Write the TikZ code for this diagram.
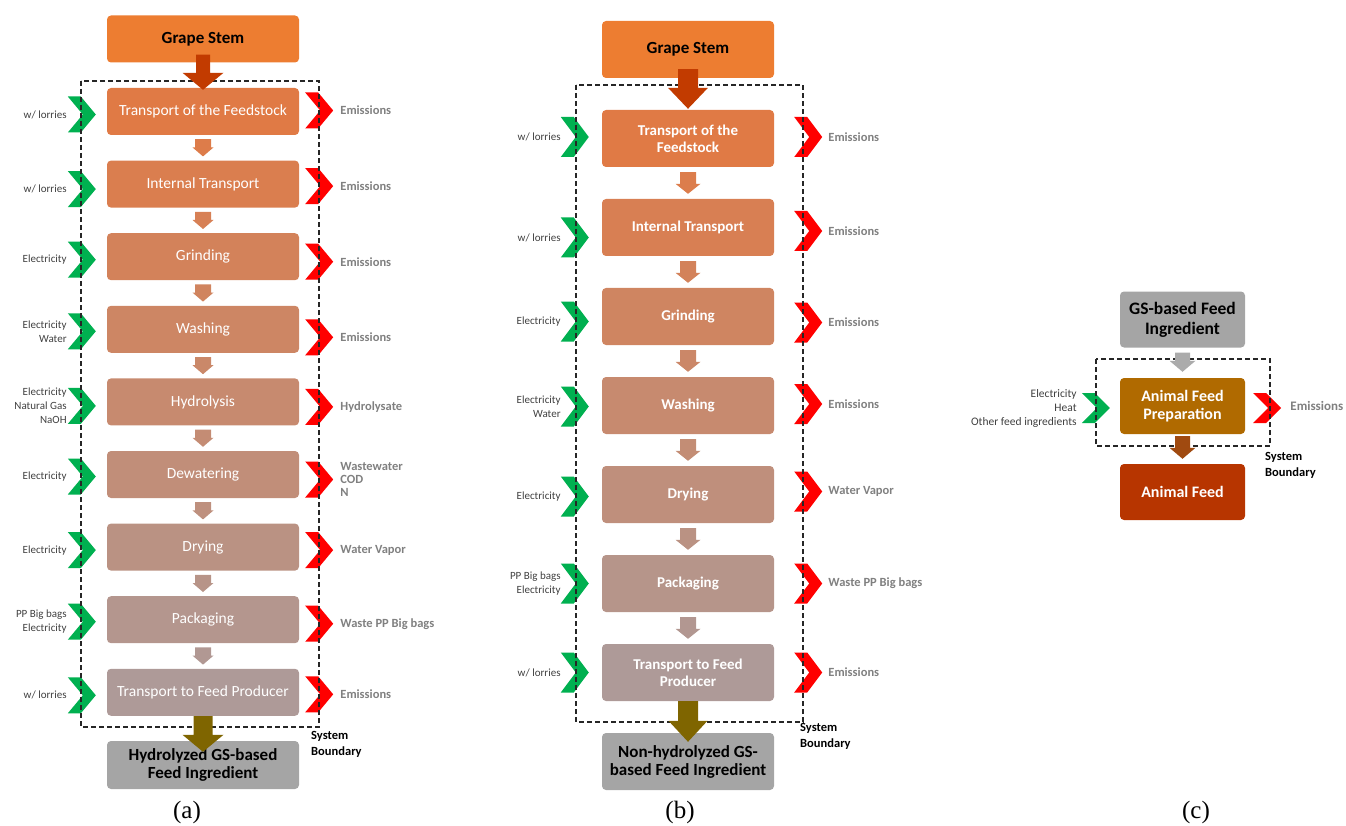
\documentclass[tikz,border=0pt]{standalone}
\usepackage{fontspec}
\setmainfont{Carlito}
\newfontfamily\capfont{Liberation Serif}
\usetikzlibrary{positioning,calc}

\definecolor{stemorange}{HTML}{ED7D31}
\definecolor{flowtop}{HTML}{E07A45}
\definecolor{flowend}{HTML}{AE9A98}
\definecolor{outgray}{HTML}{A5A5A5}
\definecolor{ingreen}{HTML}{00B050}
\definecolor{outred}{HTML}{FF0000}
\definecolor{stemarrow}{HTML}{C23B00}
\definecolor{olive}{HTML}{7F6500}
\definecolor{prepbrown}{HTML}{B06A00}
\definecolor{prepdark}{HTML}{A04A10}
\definecolor{feedred}{HTML}{B73500}
\definecolor{arrowgray}{HTML}{ABABAB}
\definecolor{labelgray}{HTML}{404040}
\definecolor{emgray}{HTML}{808080}

\tikzset{
  procbox/.style={rounded corners=4pt, inner sep=0pt, align=center, text=white},
  boxa/.style={procbox, minimum width=192pt, minimum height=47pt, font=\fontsize{15.5}{17}\selectfont},
  boxb/.style={procbox, minimum width=172pt, minimum height=57pt, font=\bfseries\fontsize{15}{17}\selectfont},
  boxc/.style={procbox, minimum width=125pt, minimum height=56pt, font=\bfseries\fontsize{16}{17.5}\selectfont},
  endbox/.style={text=black, font=\bfseries\fontsize{17}{18}\selectfont},
  inlab/.style={anchor=east, align=right, inner sep=0pt, text=labelgray, font=\fontsize{11}{14}\selectfont},
  outlab/.style={anchor=west, align=left, inner sep=0pt, text=emgray, font=\bfseries\fontsize{12.5}{13}\selectfont},
  sysbound/.style={draw=black!85, line width=1.1pt, dash pattern=on 5pt off 3pt},
  syslab/.style={anchor=west, align=left, inner sep=0pt, font=\bfseries\fontsize{12.5}{16}\selectfont},
  panellab/.style={inner sep=0pt, font=\capfont\fontsize{25}{28}\selectfont},
  pics/chevron/.style={code={\fill (-28,-#1) -- (-15,-#1) -- (0,0) -- (-15,#1) -- (-28,#1) -- (-13,0) -- cycle;}}
}

% block arrow pointing down: from, to, colour, shaft half, head half, head length
\newcommand{\flowdown}[6]{%
  \fill[#3] let \p1=(#1), \p2=(#2) in
    (\x1-#4pt,\y1) -- (\x1+#4pt,\y1) -- (\x1+#4pt,\y2+#6pt) -- (\x1+#5pt,\y2+#6pt)
    -- (\x1,\y2) -- (\x1-#5pt,\y2+#6pt) -- (\x1-#4pt,\y2+#6pt) -- cycle;}

\begin{document}
\begin{tikzpicture}[x=1pt, y=-1pt, node distance=72.6pt, on grid]
    \useasboundingbox (0,0) rectangle (1346,826);

    % (a) hydrolyzed route
    \node[boxa, fill=stemorange, endbox] (a0) at (203,39) {Grape Stem};
    \node[boxa, fill=flowtop] (a1) at (203,111.5) {Transport of the Feedstock};
    \node[boxa, fill=flowtop!87.5!flowend, below=of a1] (a2) {Internal Transport};
    \node[boxa, fill=flowtop!75!flowend, below=of a2] (a3) {Grinding};
    \node[boxa, fill=flowtop!62.5!flowend, below=of a3] (a4) {Washing};
    \node[boxa, fill=flowtop!50!flowend, below=of a4] (a5) {Hydrolysis};
    \node[boxa, fill=flowtop!37.5!flowend, below=of a5] (a6) {Dewatering};
    \node[boxa, fill=flowtop!25!flowend, below=of a6] (a7) {Drying};
    \node[boxa, fill=flowtop!12.5!flowend, below=of a7] (a8) {Packaging};
    \node[boxa, fill=flowend, below=of a8] (a9) {Transport to Feed Producer};
    \node[boxa, fill=outgray, endbox, minimum height=48pt] (a10) at (203,765) {Hydrolyzed GS-based\\Feed Ingredient};

    \foreach \n/\gy/\ry/\i/\o in {
      a1/3/-1/{w/ lorries}/Emissions,
      a2/5/2/{w/ lorries}/Emissions,
      a3/3/5/Electricity/Emissions,
      a4/2/8/{Electricity\\Water}/Emissions,
      a5/4/5/{Electricity\\Natural Gas\\NaOH}/Hydrolysate,
      a6/2/5/Electricity/{Wastewater\\COD\\N},
      a7/3/3/Electricity/{Water Vapor},
      a8/2/4/{PP Big bags\\Electricity}/{Waste PP Big bags},
      a9/3/2/{w/ lorries}/Emissions}{
      \pic[fill=ingreen] at ($(\n.west)+(-11,\gy)$) {chevron=18};
      \node[inlab] (\n-in) at ($(\n.west)+(-40,\gy)$) {\i};
      \pic[fill=outred] at ($(\n.east)+(34,\ry)$) {chevron=18};
      \node[outlab] (\n-out) at ($(\n.east)+(41,\ry)$) {\o};
    }

    % (b) non-hydrolyzed route
    \node[boxb, fill=stemorange, endbox] (b0) at (688,49.5) {Grape Stem};
    \node[boxb, fill=flowtop] (b1) at (688,138.5) {Transport of the\\Feedstock};
    \node[boxb, fill=flowtop!83.3!flowend, below=89pt of b1] (b2) {Internal Transport};
    \node[boxb, fill=flowtop!66.7!flowend, below=89pt of b2] (b3) {Grinding};
    \node[boxb, fill=flowtop!50!flowend, below=89pt of b3] (b4) {Washing};
    \node[boxb, fill=flowtop!33.3!flowend, below=89pt of b4] (b5) {Drying};
    \node[boxb, fill=flowtop!16.7!flowend, below=89pt of b5] (b6) {Packaging};
    \node[boxb, fill=flowend, below=89pt of b6] (b7) {Transport to Feed\\Producer};
    \node[boxb, fill=outgray, endbox] (b8) at (688,761.5) {Non-hydrolyzed GS-\\based Feed Ingredient};

    \foreach \n/\gy/\ry/\i/\o in {
      b1/-1.5/-1.5/{w/ lorries}/Emissions,
      b2/10/3.5/{w/ lorries}/Emissions,
      b3/5/6/Electricity/Emissions,
      b4/1/-1.5/{Electricity\\Water}/Emissions,
      b5/2/-3/Electricity/{Water Vapor},
      b6/0/0/{PP Big bags\\Electricity}/{Waste PP Big bags},
      b7/0/0/{w/ lorries}/Emissions}{
      \pic[fill=ingreen] at ($(\n.west)+(-13,\gy)$) {chevron=20};
      \node[inlab] (\n-in) at ($(\n.west)+(-41,\gy)$) {\i};
      \pic[fill=outred] at ($(\n.east)+(48,\ry)$) {chevron=20};
      \node[outlab] (\n-out) at ($(\n.east)+(54,\ry)$) {\o};
    }

    % (c) animal feed
    \node[boxc, fill=outgray, text=black, font=\bfseries\fontsize{17.5}{20}\selectfont] (c1) at (1182.5,319.5) {GS-based Feed\\Ingredient};
    \node[boxc, fill=prepbrown] (c2) at (1182.5,406) {Animal Feed\\Preparation};
    \node[boxc, fill=feedred] (c3) at (1182.5,492) {Animal Feed};
    \pic[fill=ingreen] at ($(c2.west)+(-10,2)$) {chevron=15};
    \node[inlab, font=\fontsize{11.5}{14}\selectfont] (c2-in) at ($(c2.west)+(-43,2)$) {Electricity\\Heat\\Other feed ingredients};
    \pic[fill=outred] at ($(c2.east)+(36,2)$) {chevron=15};
    \node[outlab, font=\bfseries\fontsize{13}{15}\selectfont] (c2-out) at ($(c2.east)+(45,0)$) {Emissions};

    % system boundaries
    \draw[sysbound] (81,81) rectangle (319,727);
    \draw[sysbound] (576,85) rectangle (803,722);
    \draw[sysbound] (1096,359) rectangle (1270,446);
    \node[syslab] (a-sys) at (311,744) {System\\Boundary};
    \node[syslab] (b-sys) at (800,736) {System\\Boundary};
    \node[syslab] (c-sys) at (1265,465) {System\\Boundary};

    % flow arrows
    \flowdown{$(a0.south)+(0,-8)$}{$(a1.north)+(0,2)$}{stemarrow}{7}{20.5}{17}
    \foreach \u/\v/\p in {a1/a2/93.75, a2/a3/81.25, a3/a4/68.75, a4/a5/56.25,
                          a5/a6/43.75, a6/a7/31.25, a7/a8/18.75, a8/a9/6.25}
      \flowdown{$(\u.south)+(0,4)$}{$(\v.north)+(0,-4)$}{flowtop!\p!flowend}{8}{10.5}{9};
    \flowdown{a9.south}{$(a10.north)+(0,11)$}{olive}{9.5}{20.5}{17}

    \flowdown{$(b0.south)+(0,-9)$}{$(b1.north)+(0,-1)$}{stemarrow}{10}{20}{21}
    \foreach \u/\v/\p in {b1/b2/91.7, b2/b3/75, b3/b4/58.3, b4/b5/41.7,
                          b5/b6/25, b6/b7/8.3}
      \flowdown{$(\u.south)+(0,5)$}{$(\v.north)+(0,-5)$}{flowtop!\p!flowend}{8}{12.5}{10};
    \flowdown{b7.south}{$(b8.north)+(0,9)$}{olive}{10}{19.5}{21}

    \flowdown{$(c1.south)+(0,5)$}{$(c2.north)+(0,-6)$}{arrowgray}{7.5}{13}{11}
    \flowdown{$(c2.south)+(0,2)$}{$(c3.north)+(0,-5)$}{prepdark}{7.5}{13}{11}

    % panel captions
    \node[panellab] (a-cap) at (187,812) {(a)};
    \node[panellab] (b-cap) at (680,812) {(b)};
    \node[panellab] (c-cap) at (1196,812) {(c)};
\end{tikzpicture}
\end{document}
